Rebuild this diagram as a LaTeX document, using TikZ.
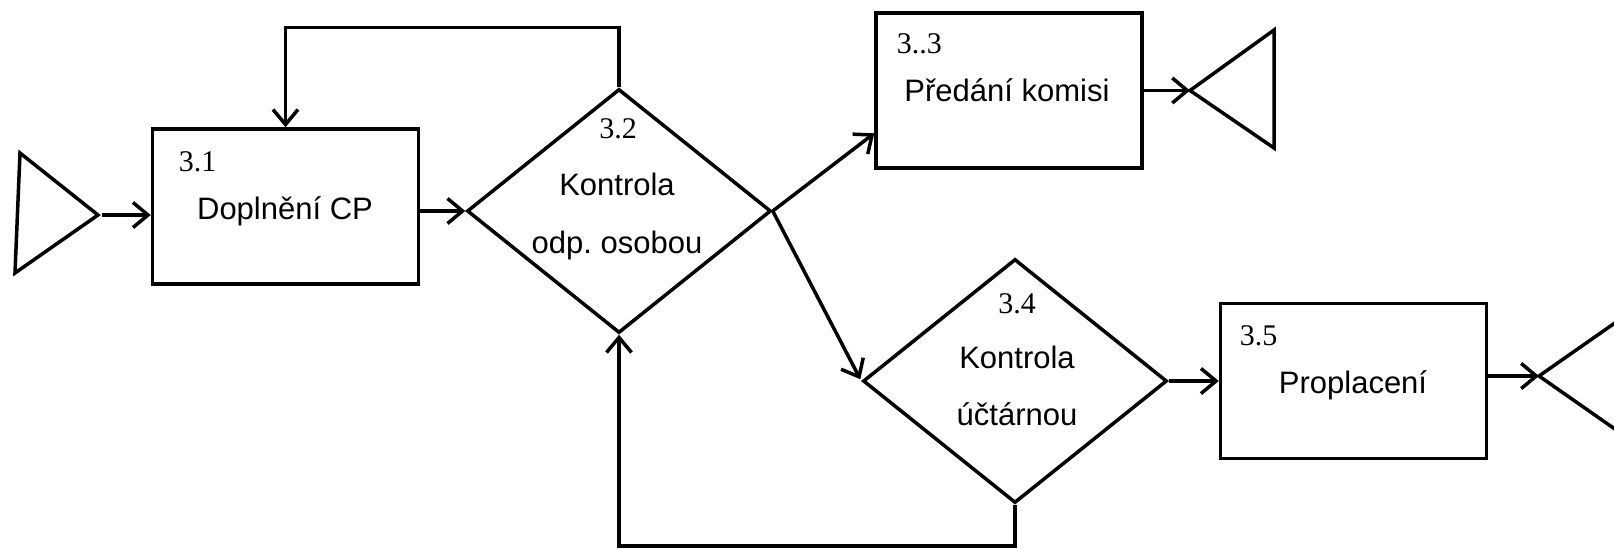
\documentclass[tikz,border=0pt]{standalone}
\usepackage{fontspec}
\setmainfont{Liberation Serif}
\newfontfamily\arialf{Liberation Sans}
\usetikzlibrary{arrows.meta,shapes.geometric,calc}
\frenchspacing
\begin{document}
\begin{tikzpicture}[x=1pt,y=-1pt,
  line width=3.5pt,
  proc/.style={draw, rectangle, minimum width=266pt, minimum height=155pt, inner sep=0pt},
  dec/.style={draw, diamond, minimum width=304pt, minimum height=244pt, inner sep=0pt},
  flow/.style={-{Straight Barb[length=15pt,width=25pt]}},
  num/.style={font=\fontsize{30}{36}\selectfont, inner sep=0pt},
  lbl/.style={font=\arialf\fontsize{31}{37}\selectfont, inner sep=0pt, anchor=base},
  term/.style={draw, line join=miter}
]
\useasboundingbox (0,0) rectangle (1614,549);
\clip (0,0) rectangle (1614,549);

% processes
\node[proc] (box31) at (285.5,206.5) {};
\node[proc] (box33) at (1009,90.5) {};
\node[proc] (box35) at (1353.5,381) {};
% decisions
\node[dec] (dia32) at (619,211) {};
\node[dec] (dia34) at (1015,381) {};

% terminals
\coordinate (tri1) at (98,215);
\draw[term] (20,153) -- (15,273) -- (tri1) -- cycle;
\coordinate (tri2) at (1190,90.5);
\draw[term] (tri2) -- (1274,30) -- (1274,148) -- cycle;
\coordinate (tri3) at (1539,376);
\draw[term] (tri3) -- (1622,318) -- (1622,434) -- cycle;

% texts
\node[num, anchor=base west] (n31) at (177,171) {3.1};
\node[lbl] (t31) at (285,219) {Doplnění CP};
\node[num, anchor=base] (n32) at (618,138) {3.2};
\node[lbl] (t32a) at (617,195) {Kontrola};
\node[lbl] (t32b) at (617,253) {odp.\ osobou};
\node[num, anchor=base west] (n33) at (895,53) {3..3};
\node[lbl] (t33) at (1007,101) {Předání komisi};
\node[num, anchor=base] (n34) at (1017,313) {3.4};
\node[lbl] (t34a) at (1017,368) {Kontrola};
\node[lbl] (t34b) at (1017,425) {účtárnou};
\node[num, anchor=base west] (n35) at (1238,345) {3.5};
\node[lbl] (t35) at (1353,393) {Proplacení};

% connectors
\draw[flow] ($(tri1)+(4,0)$) -- (tri1 -| box31.west);
\draw[flow] (dia32.west -| box31.east) -- (dia32.west);
\draw[flow] (dia32.east) -- ($(box33.south west)!0.23!(box33.north west)$);
\draw[flow, shorten >=2pt] (dia32.east) -- (dia34.west);
\draw[flow] (box33.east) -- (tri2);
\draw[flow] (dia34.east) -- (box35.west);
\draw[flow] (tri3 -| box35.east) -- (tri3);
\draw[flow] (dia34.south) -- ++(0,41) -| (dia32.south);
\draw[flow] (dia32.north) -- ++(0,-60) -| (box31.north);
\end{tikzpicture}
\end{document}
